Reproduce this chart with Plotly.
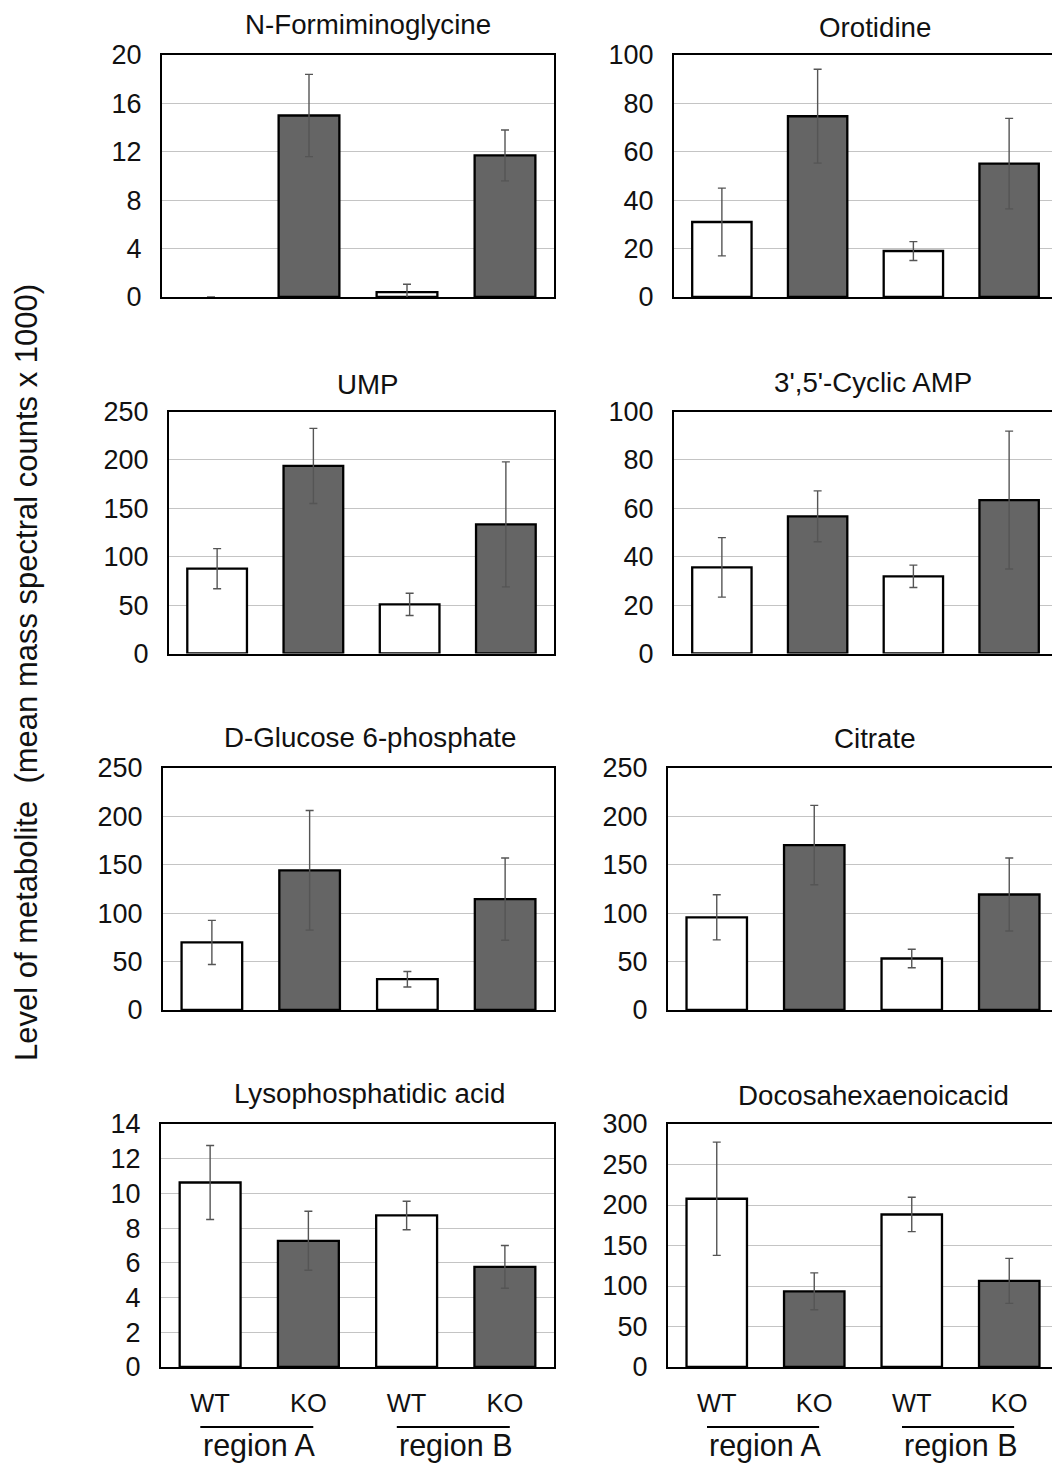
import plotly.graph_objects as go

# ---------------- data ----------------
categories = ["WT", "KO", "WT", "KO"]
regions = ["region A", "region B"]

titles = ["N-Formiminoglycine", "Orotidine", "UMP", "3',5'-Cyclic AMP",
          "D-Glucose 6-phosphate", "Citrate", "Lysophosphatidic acid", "Docosahexaenoicacid"]

nformimino = [0, 15.0, 0.4, 11.7]
nformimino_err = [0, 3.4, 0.65, 2.1]
orotidine = [31, 74.7, 19, 55.1]
orotidine_err = [14, 19.4, 3.9, 18.7]
ump = [87.6, 193.8, 50.7, 133.4]
ump_err = [20.7, 38.8, 11.5, 64.6]
camp = [35.6, 56.7, 31.9, 63.4]
camp_err = [12.3, 10.5, 4.6, 28.5]
g6p = [69.8, 144.3, 31.8, 114.6]
g6p_err = [22.8, 61.8, 8.0, 42.5]
citrate = [95.7, 170.4, 53.2, 119.3]
citrate_err = [23.3, 41.0, 9.6, 37.7]
lpa = [10.63, 7.27, 8.73, 5.77]
lpa_err = [2.13, 1.7, 0.82, 1.23]
dha = [207.7, 93.4, 188.3, 106.3]
dha_err = [69.9, 22.8, 21.2, 27.8]

values = [nformimino, orotidine, ump, camp, g6p, citrate, lpa, dha]
errors = [nformimino_err, orotidine_err, ump_err, camp_err, g6p_err, citrate_err, lpa_err, dha_err]
y_max = [20, 100, 250, 100, 250, 250, 14, 300]
y_step = [4, 20, 50, 20, 50, 50, 2, 50]

# ---------------- layout geometry (page pixels) ----------------
OFF = 8                      # page body margin
W, H = 1060 - OFF, 1464 - OFF  # figure size so the page fits the window


def px_x(p):
    return (p - OFF) / W


def px_y(p):
    return 1 - (p - OFF) / H


x_px = [(162, 554), (674, 1057), (169, 554), (674, 1057),
        (163, 554), (668, 1058), (161, 554), (668, 1058)]
y_px = [(55, 297), (55, 297), (411.5, 653.5), (411.5, 653.5),
        (768, 1010), (768, 1010), (1124, 1367), (1124, 1367)]
title_px = [(368, 25), (875, 28), (368, 385), (873, 383),
            (370, 737), (875, 738), (369, 1093), (873, 1095)]

FONT = "Liberation Sans, Arial, Helvetica, sans-serif"
WT_FILL = "#ffffff"
KO_FILL = "#656565"

fig = go.Figure()
xpos = list(range(len(categories)))
fills = [WT_FILL if c == "WT" else KO_FILL for c in categories]

for i in range(8):
    n = i + 1
    xa = "x" if n == 1 else f"x{n}"
    ya = "y" if n == 1 else f"y{n}"
    vals = values[i]
    errs = errors[i]
    lw = [2.3 if v > 0 else 0 for v in vals]
    op = [1 if v > 0 else 0 for v in vals]
    fig.add_trace(go.Bar(
        x=xpos, y=vals, width=0.62, xaxis=xa, yaxis=ya,
        marker=dict(color=fills, opacity=op, line=dict(color="#000000", width=lw)),
        error_y=dict(type="data", array=[e if e > 0 else None for e in errs], visible=True,
                     color="#555555", thickness=1.4, width=4),
        showlegend=False, hoverinfo="skip",
    ))
    x0, x1 = x_px[i]
    yt, yb = y_px[i]
    is_bottom = i >= 6
    fig.layout[f"xaxis{'' if n == 1 else n}"] = dict(
        domain=[px_x(x0), px_x(x1)], anchor=ya, range=[-0.5, len(categories) - 0.5],
        showgrid=False, zeroline=False, showline=True, mirror=True,
        linecolor="#000000", linewidth=2, ticks="", automargin=False,
        tickvals=xpos, ticktext=categories, showticklabels=is_bottom,
        tickfont=dict(family=FONT, size=25.5, color="#111111"),
        ticklabelstandoff=12, fixedrange=True,
    )
    fig.layout[f"yaxis{'' if n == 1 else n}"] = dict(
        domain=[px_y(yb), px_y(yt)], anchor=xa, range=[0, y_max[i]],
        tick0=0, dtick=y_step[i], automargin=False,
        showgrid=True, gridcolor="#c4c4c4", gridwidth=1,
        zeroline=False, showline=True, mirror=True,
        linecolor="#000000", linewidth=2, ticks="",
        tickfont=dict(family=FONT, size=27, color="#111111"),
        ticklabelstandoff=13, fixedrange=True,
    )
    tx, ty = title_px[i]
    fig.add_annotation(text=titles[i], x=px_x(tx), y=px_y(ty), xref="paper", yref="paper",
                       showarrow=False, xanchor="center", yanchor="middle",
                       font=dict(family=FONT, size=27.7, color="#111111"))

# region labels and group lines under the bottom panels
for n in (7, 8):
    xa = f"x{n}"
    for r, name in enumerate(regions):
        a, b = xpos[2 * r], xpos[2 * r + 1]
        fig.add_shape(type="line", xref=xa, yref="paper",
                      x0=a - 0.1, x1=b + 0.05, y0=px_y(1427), y1=px_y(1427),
                      line=dict(color="#000000", width=2))
        fig.add_annotation(text=name, x=(a + b) / 2, y=px_y(1445), xref=xa, yref="paper",
                           showarrow=False, xanchor="center", yanchor="middle",
                           font=dict(family=FONT, size=30.5, color="#111111"))

fig.add_annotation(text="Level of metabolite&nbsp; (mean mass spectral counts x 1000)",
                   x=px_x(27), y=px_y(673), xref="paper", yref="paper", textangle=-90,
                   showarrow=False, xanchor="center", yanchor="middle",
                   font=dict(family=FONT, size=31, color="#111111"))

fig.update_layout(
    template="none",
    width=W, height=H, margin=dict(l=0, r=0, t=0, b=0, autoexpand=False),
    paper_bgcolor="#ffffff", plot_bgcolor="#ffffff",
    bargap=0.38,
)

fig.write_html("out.html")
